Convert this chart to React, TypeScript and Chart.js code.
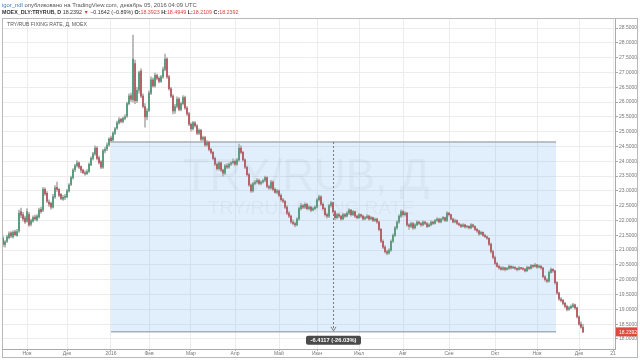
import React, { useEffect, useRef } from "react";
import { Chart, registerables } from "chart.js";
Chart.register(...registerables);

const FONT = "'Liberation Sans', Arial, sans-serif";

const opens = [
  21.40,21.18,21.30,21.42,21.58,21.45,21.62,21.50,21.65,22.30,
  22.20,22.08,21.98,22.20,21.88,21.98,22.12,22.02,22.12,22.38,
  22.35,23.05,22.92,22.62,22.58,22.45,22.80,23.12,23.05,22.88,
  22.72,22.78,22.80,23.00,23.22,23.45,23.72,23.85,23.95,23.82,
  23.70,23.60,23.58,23.66,23.88,24.10,24.25,24.45,24.12,23.98,
  23.80,24.35,24.42,24.55,24.78,24.72,24.95,25.12,25.30,25.42,
  25.35,25.45,25.52,25.95,26.22,26.08,27.30,26.05,26.40,27.05,
  26.20,25.85,25.50,25.72,26.30,26.75,26.55,26.90,26.80,26.70,
  26.85,27.10,27.45,26.85,26.45,26.20,25.70,25.85,26.10,25.75,
  25.95,26.15,25.80,25.60,25.25,25.10,25.30,25.20,24.95,25.05,
  24.75,24.80,24.55,24.65,24.40,24.30,24.10,23.90,23.75,23.95,
  23.70,23.60,23.85,23.80,23.90,23.95,24.00,23.90,24.05,24.45,
  24.30,24.05,23.80,23.55,23.20,23.00,23.25,23.30,23.35,23.25,
  23.30,23.35,23.45,23.15,23.10,23.30,23.05,22.95,23.00,22.85,
  22.70,22.65,22.45,22.25,22.15,21.95,21.90,21.85,22.05,22.40,
  22.50,22.45,22.55,22.40,22.45,22.35,22.40,22.45,22.70,22.80,
  22.55,22.40,22.20,22.15,22.50,22.60,22.30,22.10,22.20,22.15,
  22.05,22.20,22.15,22.25,22.35,22.20,22.30,22.15,22.10,22.20,
  22.15,22.05,22.10,22.15,22.05,22.10,22.00,22.05,21.95,21.70,
  21.30,21.10,20.95,20.90,21.00,21.30,21.50,21.75,21.95,22.15,
  22.30,22.20,22.25,21.85,21.80,21.90,21.75,21.85,21.95,21.90,
  21.85,21.95,21.90,21.80,21.85,21.95,21.90,22.00,22.05,21.95,
  22.05,22.10,22.00,22.25,22.20,22.05,21.95,22.00,21.90,21.85,
  21.80,21.85,21.78,21.80,21.75,21.85,21.80,21.70,21.65,21.55,
  21.60,21.50,21.45,21.40,21.20,20.95,20.75,20.55,20.45,20.40,
  20.35,20.40,20.35,20.38,20.45,20.40,20.42,20.38,20.35,20.40,
  20.38,20.36,20.30,20.42,20.38,20.48,20.45,20.50,20.42,20.46,
  20.40,20.10,20.00,19.95,20.25,20.35,20.30,19.90,19.55,19.35,
  19.30,19.20,19.10,19.00,19.05,19.10,19.15,19.05,18.75,18.50,18.3923,
];

const highs = [
  21.48,21.32,21.50,21.62,21.63,21.66,21.68,21.70,22.35,22.42,
  22.28,22.15,22.40,22.28,22.05,22.16,22.18,22.20,22.42,22.45,
  23.12,23.10,22.98,22.70,22.62,22.88,23.18,23.30,23.08,22.92,
  22.85,22.88,23.05,23.25,23.50,23.75,23.90,24.02,23.98,23.85,
  23.74,23.68,23.72,23.95,24.15,24.30,24.52,24.50,24.18,24.02,
  24.40,24.48,24.62,24.80,24.85,25.00,25.15,25.36,25.48,25.46,
  25.50,25.58,26.00,26.28,26.30,28.26,27.42,26.50,27.05,27.12,
  26.28,25.95,25.78,26.38,26.85,26.82,26.98,26.95,26.85,26.90,
  27.18,27.62,27.50,26.90,26.50,26.25,25.92,26.18,26.15,26.00,
  26.22,26.20,25.85,25.65,25.30,25.35,25.34,25.24,25.10,25.08,
  24.85,24.84,24.70,24.68,24.45,24.34,24.14,23.95,24.00,23.98,
  23.74,23.90,23.92,23.95,24.00,24.08,24.05,24.10,24.58,24.52,
  24.34,24.08,23.84,23.60,23.24,23.30,23.36,23.42,23.40,23.34,
  23.40,23.50,23.48,23.20,23.36,23.34,23.10,23.05,23.04,22.90,
  22.75,22.68,22.50,22.30,22.18,22.02,21.95,22.10,22.45,22.58,
  22.55,22.60,22.58,22.50,22.48,22.45,22.50,22.75,22.86,22.84,
  22.60,22.44,22.25,22.55,22.65,22.62,22.34,22.25,22.26,22.18,
  22.25,22.24,22.30,22.40,22.38,22.34,22.32,22.18,22.24,22.22,
  22.18,22.14,22.20,22.18,22.14,22.12,22.08,22.08,21.98,21.74,
  21.35,21.15,21.00,21.05,21.35,21.55,21.80,22.00,22.20,22.36,
  22.34,22.30,22.28,21.90,21.95,21.94,21.90,22.00,21.98,21.94,
  22.00,21.98,21.94,21.90,22.00,21.98,22.04,22.10,22.08,22.08,
  22.14,22.12,22.30,22.28,22.22,22.08,22.05,22.02,21.92,21.88,
  21.90,21.88,21.84,21.82,21.90,21.88,21.82,21.74,21.68,21.64,
  21.62,21.54,21.48,21.42,21.24,21.00,20.80,20.60,20.50,20.44,
  20.44,20.42,20.42,20.50,20.48,20.46,20.44,20.40,20.44,20.42,
  20.40,20.38,20.46,20.44,20.52,20.50,20.55,20.52,20.50,20.48,
  20.42,20.14,20.04,20.30,20.40,20.38,20.32,19.94,19.58,19.40,
  19.34,19.24,19.14,19.10,19.15,19.20,19.18,19.08,18.78,18.58,18.4949,
];

const lows = [
  21.12,21.10,21.25,21.38,21.42,21.40,21.48,21.46,21.60,22.10,
  21.98,21.90,21.94,21.80,21.82,21.94,22.00,21.98,22.08,22.25,
  22.30,22.85,22.60,22.48,22.38,22.42,22.75,22.98,22.80,22.70,
  22.68,22.70,22.76,22.96,23.18,23.40,23.65,23.80,23.75,23.62,
  23.58,23.52,23.55,23.62,23.85,24.05,24.20,24.05,23.90,23.75,
  23.76,24.28,24.36,24.50,24.65,24.68,24.90,25.08,25.25,25.30,
  25.30,25.40,25.48,25.90,26.02,26.00,25.95,25.98,26.30,26.15,
  25.80,25.15,25.40,25.68,26.25,26.50,26.50,26.75,26.65,26.66,
  26.80,27.05,26.80,26.40,26.15,25.60,25.62,25.80,25.70,25.70,
  25.90,25.75,25.55,25.20,25.02,25.05,25.15,24.90,24.90,24.70,
  24.70,24.50,24.50,24.35,24.25,24.05,23.85,23.70,23.70,23.65,
  23.50,23.55,23.75,23.76,23.85,23.90,23.85,23.86,24.00,24.25,
  24.00,23.75,23.50,23.15,22.95,22.96,23.20,23.25,23.20,23.20,
  23.26,23.30,23.10,23.05,23.06,23.00,22.92,22.90,22.80,22.65,
  22.60,22.40,22.20,22.10,21.90,21.85,21.78,21.82,22.00,22.35,
  22.40,22.40,22.36,22.36,22.30,22.32,22.36,22.42,22.65,22.50,
  22.35,22.15,22.08,22.10,22.45,22.25,22.02,22.05,22.10,22.00,
  22.02,22.10,22.12,22.20,22.15,22.16,22.10,22.05,22.06,22.10,
  22.00,22.02,22.06,22.00,22.02,21.96,21.96,21.90,21.65,21.25,
  21.05,20.90,20.84,20.86,20.96,21.25,21.45,21.70,21.90,22.10,
  22.15,22.15,21.80,21.70,21.76,21.70,21.72,21.82,21.86,21.80,
  21.82,21.86,21.76,21.78,21.82,21.86,21.88,21.96,21.92,21.92,
  22.00,21.96,21.96,22.15,22.02,21.92,21.92,21.86,21.82,21.76,
  21.78,21.74,21.75,21.72,21.72,21.76,21.66,21.60,21.50,21.52,
  21.46,21.42,21.36,21.15,20.90,20.70,20.50,20.42,20.36,20.32,
  20.32,20.30,20.32,20.35,20.36,20.37,20.34,20.30,20.32,20.34,
  20.32,20.26,20.28,20.34,20.36,20.40,20.42,20.38,20.40,20.36,
  20.06,19.95,19.90,19.92,20.22,20.25,19.85,19.50,19.30,19.25,
  19.15,19.05,18.95,18.96,19.02,19.06,19.00,18.70,18.46,18.36,18.2109,
];

const closes = [
  21.20,21.28,21.45,21.55,21.48,21.60,21.52,21.63,22.25,22.18,
  22.05,21.95,22.30,21.85,22.00,22.10,22.05,22.15,22.35,22.30,
  23.05,22.90,22.65,22.55,22.45,22.80,23.10,23.05,22.85,22.75,
  22.78,22.80,23.00,23.20,23.45,23.70,23.85,23.95,23.80,23.70,
  23.62,23.58,23.65,23.90,24.10,24.25,24.45,24.10,23.95,23.80,
  24.35,24.40,24.55,24.75,24.70,24.95,25.10,25.30,25.40,25.35,
  25.45,25.50,25.95,26.20,26.10,27.45,26.05,26.40,27.00,26.20,
  25.85,25.50,25.70,26.30,26.75,26.55,26.90,26.80,26.70,26.85,
  27.10,27.45,26.85,26.45,26.20,25.70,25.85,26.10,25.75,25.95,
  26.15,25.80,25.60,25.25,25.10,25.30,25.20,24.95,25.05,24.75,
  24.80,24.55,24.65,24.40,24.30,24.10,23.90,23.75,23.95,23.70,
  23.60,23.85,23.80,23.90,23.95,24.00,23.90,24.05,24.45,24.30,
  24.05,23.80,23.55,23.20,23.00,23.25,23.30,23.35,23.25,23.30,
  23.35,23.45,23.15,23.10,23.30,23.05,22.95,23.00,22.85,22.70,
  22.65,22.45,22.25,22.15,21.95,21.90,21.85,22.05,22.40,22.50,
  22.45,22.55,22.40,22.45,22.35,22.40,22.45,22.70,22.80,22.55,
  22.40,22.20,22.15,22.50,22.60,22.30,22.10,22.20,22.15,22.05,
  22.20,22.15,22.25,22.35,22.20,22.30,22.15,22.10,22.20,22.15,
  22.05,22.10,22.15,22.05,22.10,22.00,22.05,21.95,21.70,21.30,
  21.10,20.95,20.90,21.00,21.30,21.50,21.75,21.95,22.15,22.30,
  22.20,22.25,21.85,21.80,21.90,21.75,21.85,21.95,21.90,21.85,
  21.95,21.90,21.80,21.85,21.95,21.90,22.00,22.05,21.95,22.05,
  22.10,22.00,22.25,22.20,22.05,21.95,22.00,21.90,21.85,21.80,
  21.85,21.78,21.80,21.75,21.85,21.80,21.70,21.65,21.55,21.60,
  21.50,21.45,21.40,21.20,20.95,20.75,20.55,20.45,20.40,20.35,
  20.40,20.35,20.38,20.45,20.40,20.42,20.38,20.35,20.40,20.38,
  20.36,20.30,20.42,20.38,20.48,20.45,20.50,20.42,20.46,20.40,
  20.10,20.00,19.95,20.25,20.35,20.30,19.90,19.55,19.35,19.30,
  19.20,19.10,19.00,19.05,19.10,19.15,19.05,18.75,18.50,18.40,18.2392,
];

const monthTicks = [12, 32, 54, 73, 94, 116, 138, 157, 178, 200, 223, 246, 267, 288, 305];
const monthLabels = ["Ноя", "Дек", "2016", "Фев", "Мар", "Апр", "Май", "Июн", "Июл", "Авг", "Сен", "Окт", "Ноя", "Дек", "21"];
const priceTicks = [18, 18.5, 19, 19.5, 20, 20.5, 21, 21.5, 22, 22.5, 23, 23.5, 24, 24.5, 25, 25.5, 26, 26.5, 27, 27.5, 28, 28.5];

const X_MIN = -0.5;
const X_MAX = 306;
const Y_MIN = 17.66;
const Y_MAX = 28.84;

// price-range measurement tool
const measureFrom = 54;
const measureTo = 276.5;
const measureTop = 24.6509;
const measureBottom = 18.2392;
const measureArrowAt = 165;
const measureText = "-6.4117 (-26.03%)";

const lastPrice = "18.2392";
const lastPriceValue = 18.2392;

const chartTitle = "TRY/RUB FIXING RATE, Д, MOEX";
const watermarkMain = "TRY/RUB, Д";
const watermarkSub = "TRY/RUB FIXING RATE";

const headerLine1 = [
  { t: "igor_ndl", c: "#3a7fc4", b: false },
  { t: " опубликовано на TradingView.com, декабрь 05, 2016 04:09 UTC", c: "#555", b: false },
];
const headerLine2 = [
  { t: "MOEX_DLY:TRYRUB, D", c: "#333", b: true },
  { t: " 18.2392 ", c: "#333", b: false },
  { t: "▼", c: "#d9453e", b: false },
  { t: " −0.1642 (−0.89%) ", c: "#333", b: false },
  { t: "O:", c: "#333", b: true },
  { t: "18.3923", c: "#d9453e", b: false },
  { t: " H:", c: "#333", b: true },
  { t: "18.4949", c: "#d9453e", b: false },
  { t: " L:", c: "#333", b: true },
  { t: "18.2109", c: "#d9453e", b: false },
  { t: " C:", c: "#333", b: true },
  { t: "18.2392", c: "#d9453e", b: false },
];

const UP = "#5a9c7e";
const DOWN = "#b85f67";
const WICK = "#b0b0b0";

function drawSegments(ctx: CanvasRenderingContext2D, segs: { t: string; c: string; b: boolean }[], x: number, y: number, targetW: number) {
  let total = 0;
  for (const s of segs) {
    ctx.font = `${s.b ? "bold " : ""}10px ${FONT}`;
    total += ctx.measureText(s.t).width;
  }
  const size = (10 * targetW) / total;
  let cx = x;
  ctx.textBaseline = "middle";
  ctx.textAlign = "left";
  for (const s of segs) {
    ctx.font = `${s.b ? "bold " : ""}${size}px ${FONT}`;
    ctx.fillStyle = s.c;
    ctx.fillText(s.t, cx, y);
    cx += ctx.measureText(s.t).width;
  }
}

function fitFont(ctx: CanvasRenderingContext2D, text: string, targetW: number, weight = "") {
  ctx.font = `${weight} 10px ${FONT}`;
  const w = ctx.measureText(text).width;
  return `${weight} ${(10 * targetW) / w}px ${FONT}`;
}

export default function App() {
  const ref = useRef<HTMLCanvasElement>(null);

  useEffect(() => {
    const canvas = ref.current;
    if (!canvas) return;
    const idx = closes.map((_, i) => i);
    const bodyColors = idx.map((i) => (closes[i] >= opens[i] ? UP : DOWN));

    const overlay = {
      id: "overlay",
      beforeDraw(chart: any) {
        const ctx = chart.ctx;
        ctx.save();
        ctx.fillStyle = "#ffffff";
        ctx.fillRect(0, 0, chart.width, chart.height);
        ctx.restore();
      },
      beforeDatasetsDraw(chart: any) {
        const { ctx, chartArea: a, scales } = chart;
        const xs = scales.x;
        const ys = scales.y;
        ctx.save();
        ctx.beginPath();
        ctx.rect(a.left, a.top, a.right - a.left, a.bottom - a.top);
        ctx.clip();
        const x0 = xs.getPixelForValue(measureFrom);
        const x1 = xs.getPixelForValue(measureTo);
        const yT = ys.getPixelForValue(measureTop);
        const yB = ys.getPixelForValue(measureBottom);
        ctx.fillStyle = "rgba(120,180,245,0.22)";
        ctx.fillRect(x0, yT, x1 - x0, yB - yT);
        ctx.strokeStyle = "#a8aeb6";
        ctx.lineWidth = 1.5;
        ctx.beginPath();
        ctx.moveTo(x0, yT);
        ctx.lineTo(x1, yT);
        ctx.moveTo(x0, yB);
        ctx.lineTo(x1, yB);
        ctx.stroke();

        // watermark
        ctx.fillStyle = "rgba(0,0,0,0.035)";
        ctx.textAlign = "center";
        ctx.textBaseline = "alphabetic";
        ctx.font = `44px ${FONT}`;
        ctx.fillText(watermarkMain, 306, 190);
        ctx.font = `19px ${FONT}`;
        ctx.fillText(watermarkSub, 311, 214);

        // pane title
        ctx.fillStyle = "#555";
        ctx.textAlign = "left";
        ctx.textBaseline = "middle";
        ctx.font = fitFont(ctx, chartTitle, 80);
        ctx.fillText(chartTitle, 7, 25);
        ctx.restore();
      },
      afterDatasetsDraw(chart: any) {
        const { ctx, scales } = chart;
        const xs = scales.x;
        const ys = scales.y;
        const xm = Math.round(xs.getPixelForValue(measureArrowAt)) + 0.5;
        const yT = ys.getPixelForValue(measureTop);
        const yB = ys.getPixelForValue(measureBottom);
        ctx.save();
        ctx.strokeStyle = "#7a7a7a";
        ctx.lineWidth = 1;
        ctx.setLineDash([2, 2]);
        ctx.beginPath();
        ctx.moveTo(xm, yT);
        ctx.lineTo(xm, yB - 1);
        ctx.stroke();
        ctx.setLineDash([]);
        ctx.beginPath();
        ctx.moveTo(xm - 2.5, yB - 5);
        ctx.lineTo(xm, yB - 1);
        ctx.lineTo(xm + 2.5, yB - 5);
        ctx.stroke();
        ctx.restore();
      },
      afterDraw(chart: any) {
        const { ctx, scales, chartArea: a } = chart;
        const xs = scales.x;
        const ys = scales.y;
        ctx.save();
        // measurement label
        const xm = xs.getPixelForValue(measureArrowAt);
        const yB = ys.getPixelForValue(measureBottom);
        const bw = 55;
        const bh = 9;
        const bx = xm - bw / 2 + 0.5;
        const by = yB + 4;
        ctx.fillStyle = "#4a4a4a";
        ctx.beginPath();
        ctx.roundRect(bx, by, bw, bh, 2);
        ctx.fill();
        ctx.fillStyle = "#ffffff";
        ctx.textAlign = "center";
        ctx.textBaseline = "middle";
        ctx.font = fitFont(ctx, measureText, 46, "bold");
        ctx.fillText(measureText, bx + bw / 2, by + bh / 2 + 0.5);

        // last price label on the axis
        const yl = ys.getPixelForValue(lastPriceValue);
        ctx.fillStyle = "#e0473f";
        ctx.fillRect(a.right + 1, yl - 4.5, 21, 9);
        ctx.fillStyle = "#ffffff";
        ctx.textAlign = "left";
        ctx.font = `5px ${FONT}`;
        ctx.fillText(lastPrice, a.right + 4, yl + 0.5);

        // header
        drawSegments(ctx, headerLine1, 2, 5, 195);
        drawSegments(ctx, headerLine2, 2, 13, 237);

        // frame
        ctx.strokeStyle = "#b8b8b8";
        ctx.lineWidth = 1;
        ctx.strokeRect(2.5, 18.5, 635, 339);
        ctx.restore();
      },
    };

    const chart = new Chart(canvas, {
      type: "bar",
      data: {
        datasets: [
          {
            label: "wick",
            data: idx.map((i) => ({ x: i, y: [lows[i], highs[i]] })),
            backgroundColor: WICK,
            barThickness: 1,
            grouped: false,
            order: 2,
          } as any,
          {
            label: "body",
            data: idx.map((i) => ({ x: i, y: [opens[i], closes[i]] })),
            backgroundColor: bodyColors,
            barThickness: 1.3,
            minBarLength: 1,
            grouped: false,
            order: 1,
          } as any,
        ],
      },
      options: {
        responsive: false,
        animation: false,
        devicePixelRatio: 1,
        layout: { padding: { left: 2, top: 18, right: 3, bottom: 3 } },
        plugins: { legend: { display: false }, tooltip: { enabled: false } },
        scales: {
          x: {
            type: "linear",
            min: X_MIN,
            max: X_MAX,
            offset: false,
            afterBuildTicks: (s: any) => {
              s.ticks = monthTicks.map((v) => ({ value: v }));
            },
            afterFit: (s: any) => {
              s.height = 8;
            },
            ticks: {
              autoSkip: false,
              maxRotation: 0,
              padding: 0,
              color: "#777",
              font: { size: 5, family: FONT },
              callback: (_v: any, i: number) => monthLabels[i] ?? "",
            },
            grid: { color: "#ececec", offset: false, tickLength: 2, tickColor: "#aaa" },
            border: { color: "#aaa" },
          },
          y: {
            position: "right",
            min: Y_MIN,
            max: Y_MAX,
            afterBuildTicks: (s: any) => {
              s.ticks = priceTicks.map((v) => ({ value: v }));
            },
            afterFit: (s: any) => {
              s.width = 22;
            },
            ticks: {
              padding: 1,
              color: "#777",
              font: { size: 5, family: FONT },
              callback: (v: any) => Number(v).toFixed(4),
            },
            grid: { color: "#ececec", tickLength: 3, tickColor: "#aaa" },
            border: { color: "#aaa" },
          },
        },
      } as any,
      plugins: [overlay],
    });
    return () => chart.destroy();
  }, []);

  return (
    <div style={{ position: "absolute", left: 0, top: 0, width: 640, height: 360, background: "#fff" }}>
      <canvas ref={ref} width={640} height={360} style={{ display: "block" }} />
    </div>
  );
}
